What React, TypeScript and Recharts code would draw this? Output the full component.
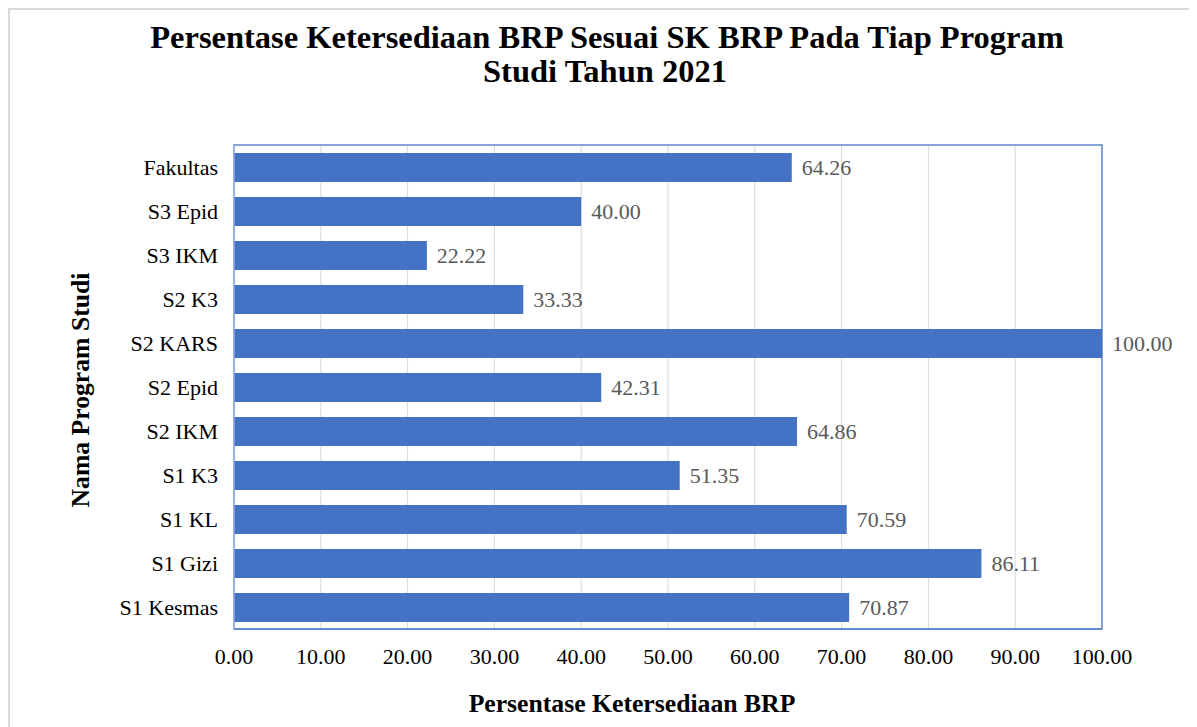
import React from 'react';
import {
  BarChart,
  Bar,
  XAxis,
  YAxis,
  CartesianGrid,
  LabelList,
  ReferenceArea,
} from 'recharts';

const programs = [
  'Fakultas',
  'S3 Epid',
  'S3 IKM',
  'S2 K3',
  'S2 KARS',
  'S2 Epid',
  'S2 IKM',
  'S1 K3',
  'S1 KL',
  'S1 Gizi',
  'S1 Kesmas',
];

const percentages = [64.26, 40.0, 22.22, 33.33, 100.0, 42.31, 64.86, 51.35, 70.59, 86.11, 70.87];

const xTicks = [0, 10, 20, 30, 40, 50, 60, 70, 80, 90, 100];

const data = programs.map((name, i) => ({ name, value: percentages[i] }));

const font = 'Liberation Serif, Times New Roman, serif';
const blue = '#4472C4';

const W = 1189;
const H = 719;

export default function App() {
  return (
    <div style={{ position: 'relative', width: W, height: H, overflow: 'hidden', background: '#fff' }}>
      <div
        style={{
          position: 'absolute',
          left: 0,
          top: 0,
          width: W + 10,
          height: H + 10,
          borderTop: '2px solid #d9d9d9',
          borderLeft: '2px solid #d9d9d9',
          boxSizing: 'border-box',
        }}
      />
      <BarChart
        width={W}
        height={H}
        data={data}
        layout="vertical"
        margin={{ top: 137, right: 95, left: 0, bottom: 48 }}
        style={{ fontFamily: font }}
      >
        <CartesianGrid horizontal={false} stroke="#d9d9d9" />
        <XAxis
          type="number"
          domain={[0, 100]}
          ticks={xTicks}
          interval={0}
          height={50}
          tickSize={0}
          tickMargin={19}
          tickFormatter={(v: number) => v.toFixed(2)}
          tick={{ fill: '#000', fontSize: 22, fontFamily: font }}
          axisLine={{ stroke: blue }}
        />
        <YAxis
          type="category"
          dataKey="name"
          width={226}
          tickSize={0}
          tickMargin={16}
          interval={0}
          tick={{ fill: '#000', fontSize: 22, fontFamily: font }}
          axisLine={{ stroke: '#b4c7e7' }}
        />
        <ReferenceArea x1={0} x2={100} fill="none" stroke="#5f86cc" strokeWidth={1.5} ifOverflow="visible" />
        <Bar dataKey="value" fill={blue} barSize={29} isAnimationActive={false}>
          <LabelList
            dataKey="value"
            position="right"
            offset={10}
            formatter={(v: number) => Number(v).toFixed(2)}
            style={{ fill: '#595959', fontSize: 22, fontFamily: font }}
          />
        </Bar>
      </BarChart>
      <svg
        width={W}
        height={H}
        style={{ position: 'absolute', left: 0, top: 0, pointerEvents: 'none' }}
      >
        <g fontFamily={font} fontWeight="bold" fill="#000">
          <text x={599} y={40} fontSize={32.5} textAnchor="middle">
            Persentase Ketersediaan BRP Sesuai SK BRP Pada Tiap Program
          </text>
          <text x={597} y={74} fontSize={32.5} textAnchor="middle">
            Studi Tahun 2021
          </text>
          <text x={624} y={704} fontSize={25.7} textAnchor="middle">
            Persentase Ketersediaan BRP
          </text>
          <text x={81} y={382} fontSize={25.7} textAnchor="middle" transform="rotate(-90, 81, 382)">
            Nama Program Studi
          </text>
        </g>
      </svg>
    </div>
  );
}
